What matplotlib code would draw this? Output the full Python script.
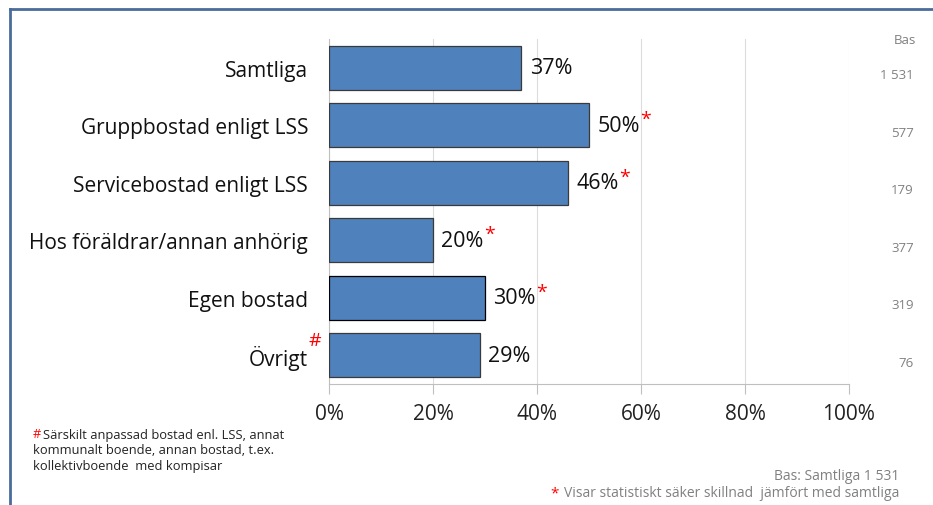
import matplotlib.pyplot as plt
from matplotlib.lines import Line2D

categories = ['Samtliga', 'Gruppbostad enligt LSS', 'Servicebostad enligt LSS',
              'Hos föräldrar/annan anhörig', 'Egen bostad', 'Övrigt']
values = [37, 50, 46, 20, 30, 29]
significant = [False, True, True, True, True, False]
bas = ['1 531', '577', '179', '377', '319', '76']
xticks = [0, 20, 40, 60, 80, 100]

plt.rcParams['font.family'] = ['Open Sans', 'DejaVu Sans']

fig = plt.figure(figsize=(9.33, 5.06), dpi=100)
W, H = 933, 506
ax = fig.add_axes([329 / W, 1 - 385 / H, 520 / W, 345 / H])

ypos = list(range(len(categories)))
bar_color = '#4f81bd'
edges = ['#3a3a3a'] * len(categories)
edges[4] = '#000000'
ax.barh(ypos, values, height=0.77, color=bar_color, edgecolor=edges, linewidth=0.9, zorder=3)

ax.set_xlim(0, 100)
ax.set_ylim(len(categories) - 0.5, -0.5)
ax.set_xticks(xticks)
ax.set_xticklabels([f'{t}%' for t in xticks], fontsize=15, color='#222222')
ax.set_yticks(ypos)
ax.set_yticklabels(categories, fontsize=15, color='#111111')
ax.tick_params(axis='y', length=0, pad=15)
ax.tick_params(axis='x', length=7, color='#bfbfbf', pad=7, direction='out')
ax.xaxis.grid(True, color='#dcdcdc', linewidth=0.8, zorder=0)
for s in ['top', 'right']:
    ax.spines[s].set_visible(False)
ax.spines['bottom'].set_color('#bfbfbf')
ax.spines['left'].set_color('#bfbfbf')

for i, v in enumerate(values):
    t = ax.annotate(f'{v}%', (v, i), xytext=(6, 0), textcoords='offset points',
                    va='center', ha='left', fontsize=15.5, color='#111111')
    if significant[i]:
        ax.annotate('*', (1, 1), xycoords=t, xytext=(0, -3), textcoords='offset points',
                    ha='left', va='center', fontsize=14, color='#ff0000')

# '#' marker on Övrigt label
fig.canvas.draw()
lbl = ax.get_yticklabels()[5]
ax.annotate('#', (1, 1), xycoords=lbl, xytext=(0, 4), textcoords='offset points',
            ha='left', va='center', fontsize=14, color='#ff0000', annotation_clip=False)

# Bas column
fig.text(905 / W, 1 - 41 / H, 'Bas', ha='center', va='center', fontsize=9.5, color='#808080')
for i, b in enumerate(bas):
    y = ax.transData.transform((0, i))[1] / fig.bbox.height
    fig.text(914 / W, y - 7 / H, b, ha='right', va='center', fontsize=9.5, color='#808080')

# footnotes
fig.text(33 / W, 1 - 435 / H, '#', ha='left', va='center', fontsize=9.3, color='#ff0000')
fig.text(43 / W, 1 - 435 / H, 'Särskilt anpassad bostad enl. LSS, annat',
         ha='left', va='center', fontsize=9.3, color='#222222')
fig.text(33 / W, 1 - 451 / H, 'kommunalt boende, annan bostad, t.ex.',
         ha='left', va='center', fontsize=9.3, color='#222222')
fig.text(33 / W, 1 - 467 / H, 'kollektivboende  med kompisar',
         ha='left', va='center', fontsize=9.3, color='#222222')

fig.text(899 / W, 1 - 477 / H, 'Bas: Samtliga 1 531', ha='right', va='center',
         fontsize=10, color='#808080')
note = fig.text(899 / W, 1 - 494 / H, 'Visar statistiskt säker skillnad  jämfört med samtliga',
                ha='right', va='center', fontsize=10, color='#808080')
fig.canvas.draw()
x0 = note.get_window_extent().x0
fig.text((x0 - 5) / W, 1 - 494 / H, '*', ha='right', va='center', fontsize=11, color='#ff0000')

# frame lines
frame = '#4a6c9a'
fig.add_artist(Line2D([10 / W, 10 / W], [0, 1 - 10 / H], color=frame, linewidth=2,
                      transform=fig.transFigure))
fig.add_artist(Line2D([10 / W, 1], [1 - 10 / H, 1 - 10 / H], color=frame, linewidth=2,
                      transform=fig.transFigure))

fig.savefig('out.png', dpi=100)
